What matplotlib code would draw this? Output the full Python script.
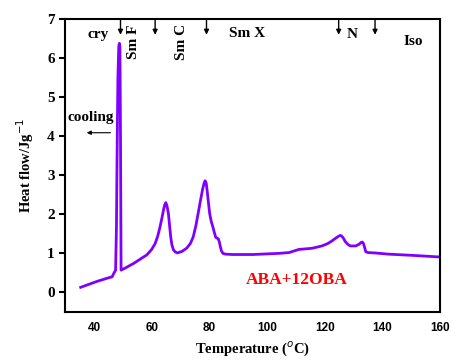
import numpy as np
import matplotlib.pyplot as plt

# DSC cooling curve
temp = [35.4, 38.0, 41.0, 44.0, 46.3, 46.9, 47.5, 47.8, 48.0, 48.3, 48.6, 48.8,
        49.0, 49.2, 49.4, 50.5, 53.7, 56.0, 58.3, 60.0, 61.2, 62.1, 62.9, 63.6,
        64.1, 64.5, 64.9, 65.3, 65.8, 66.2, 66.6, 67.0, 67.5, 68.1, 68.9, 70.5,
        72.1, 73.4, 74.4, 75.3, 76.1, 76.9, 77.6, 78.1, 78.5, 78.9, 79.2, 79.6,
        80.1, 80.6, 81.2, 81.7, 82.2, 82.7, 83.1, 83.5, 83.8, 84.2, 84.7, 85.5,
        88.1, 95.0, 104.2, 107.6, 111.0, 115.6, 119.0, 121.0, 122.5, 123.8, 124.8,
        125.4, 125.9, 126.5, 127.1, 128.0, 128.8, 130.7, 131.8, 132.6, 133.0,
        133.4, 133.8, 134.2, 135.0, 137.4, 142.0, 150.0, 159.1, 160.0]
heat = [0.13, 0.20, 0.28, 0.35, 0.40, 0.49, 0.57, 1.68, 3.39, 5.5, 6.3, 6.38,
        6.3, 4.0, 0.57, 0.61, 0.74, 0.85, 0.96, 1.10, 1.25, 1.44, 1.68, 1.92,
        2.11, 2.24, 2.30, 2.22, 2.02, 1.72, 1.42, 1.22, 1.10, 1.04, 1.01, 1.05,
        1.13, 1.25, 1.42, 1.70, 2.02, 2.35, 2.62, 2.78, 2.86, 2.80, 2.62, 2.35,
        2.02, 1.83, 1.68, 1.54, 1.41, 1.39, 1.37, 1.28, 1.17, 1.06, 1.00, 0.98,
        0.97, 0.97, 1.00, 1.02, 1.10, 1.13, 1.19, 1.25, 1.32, 1.39, 1.44,
        1.46, 1.44, 1.38, 1.30, 1.23, 1.19, 1.19, 1.23, 1.28, 1.29,
        1.25, 1.15, 1.04, 1.02, 1.01, 0.98, 0.95, 0.91, 0.91]

arrow_x = [49.2, 61.2, 79.0, 124.8, 137.4]
phase_labels = ["cry", "Sm F", "Sm C", "Sm X", "N", "Iso"]
phase_x = [41.6, 53.7, 70.5, 93.2, 129.5, 150.5]
phase_y = [6.6, 6.42, 6.42, 6.64, 6.6, 6.42]
phase_rot = [0, 90, 90, 0, 0, 0]

serif = "Liberation Serif"
sans = "Liberation Sans"

fig = plt.figure(figsize=(4.52, 3.61), dpi=100)
ax = fig.add_axes([0.144, 0.136, 0.830, 0.811])
ax.plot(temp, heat, color="#8000ff", lw=2, solid_joinstyle="round")

ax.set_xlim(30, 160)
ax.set_ylim(-0.5, 7)
ax.set_xticks([40, 60, 80, 100, 120, 140, 160])
ax.set_yticks(range(8))
for s in ax.spines.values():
    s.set_linewidth(1.5)
ax.tick_params(axis="y", direction="out", length=4, width=1.5, labelsize=11)
ax.tick_params(axis="x", length=0, labelsize=8.5, pad=7)
for lb in ax.get_yticklabels():
    lb.set_fontfamily(serif)
    lb.set_fontweight("bold")
for lb in ax.get_xticklabels():
    lb.set_fontfamily(sans)
    lb.set_fontweight("bold")

ax.set_xlabel("Temperature ($^{o}$C)", fontfamily=serif, fontweight="bold",
              fontsize=10.5, labelpad=4)
ax.set_ylabel("Heat flow/Jg$^{-1}$", fontfamily=serif, fontweight="bold",
              fontsize=10.5, labelpad=8)

for xa in arrow_x:
    ax.annotate("", xy=(xa, 6.6), xytext=(xa, 7.0),
                arrowprops=dict(arrowstyle="-|>", color="black", lw=1,
                                mutation_scale=7, shrinkA=0, shrinkB=0))
for lab, xx, yy, rot in zip(phase_labels, phase_x, phase_y, phase_rot):
    ax.text(xx, yy, lab, ha="center", va="center", rotation=rot,
            fontfamily=serif, fontweight="bold", fontsize=11)

ax.text(38.9, 4.49, "cooling", ha="center", va="center",
        fontfamily=serif, fontweight="bold", fontsize=11)
ax.annotate("", xy=(37.5, 4.09), xytext=(45.7, 4.09),
            arrowprops=dict(arrowstyle="-|>", color="black", lw=0.8,
                            mutation_scale=6, shrinkA=0, shrinkB=0))
ax.text(110.3, 0.32, "ABA+12OBA", color="red", ha="center", va="center",
        fontfamily=serif, fontweight="bold", fontsize=12.5)

fig.savefig("out.png", dpi=100)
